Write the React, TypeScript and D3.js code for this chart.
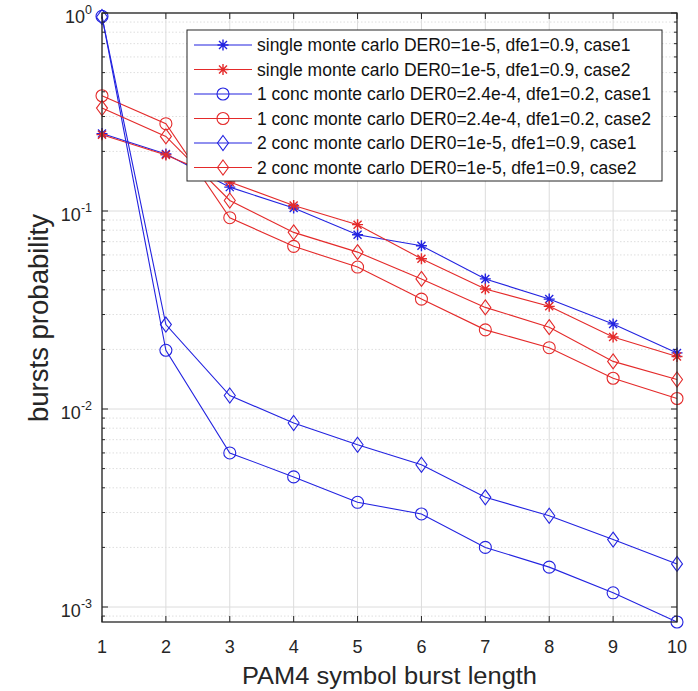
import React from "react";
import * as d3 from "d3";

const burstLength = [1, 2, 3, 4, 5, 6, 7, 8, 9, 10];
const singleCase1 = [0.246, 0.194, 0.132, 0.1035, 0.0759, 0.0668, 0.0454, 0.0359, 0.0269, 0.0192];
const singleCase2 = [0.243, 0.192, 0.14, 0.1067, 0.0853, 0.0574, 0.0404, 0.033, 0.0231, 0.0184];
const conc1Case1 = [0.962, 0.0198, 0.006, 0.00454, 0.00338, 0.00295, 0.002, 0.00159, 0.00118, 0.00084];
const conc1Case2 = [0.382, 0.276, 0.0925, 0.0663, 0.0521, 0.0359, 0.0251, 0.0204, 0.0143, 0.0113];
const conc2Case1 = [0.955, 0.0267, 0.0117, 0.0085, 0.0066, 0.00523, 0.00358, 0.00289, 0.00219, 0.00165];
const conc2Case2 = [0.331, 0.238, 0.113, 0.078, 0.062, 0.0454, 0.0326, 0.0259, 0.0174, 0.0141];

const seriesNames = [
  "single monte carlo DER0=1e-5, dfe1=0.9, case1",
  "single monte carlo DER0=1e-5, dfe1=0.9, case2",
  "1 conc monte carlo DER0=2.4e-4, dfe1=0.2, case1",
  "1 conc monte carlo DER0=2.4e-4, dfe1=0.2, case2",
  "2 conc monte carlo DER0=1e-5, dfe1=0.9, case1",
  "2 conc monte carlo DER0=1e-5, dfe1=0.9, case2",
];
const seriesValues = [singleCase1, singleCase2, conc1Case1, conc1Case2, conc2Case1, conc2Case2];
const seriesColors = ["#2323e0", "#e42a2a", "#2323e0", "#e42a2a", "#2323e0", "#e42a2a"];
const seriesMarkers = ["star", "star", "circle", "circle", "diamond", "diamond"];

const xTicks = [1, 2, 3, 4, 5, 6, 7, 8, 9, 10];
const yDecades = [-3, -2, -1, 0];

const W = 698;
const H = 691;
const M = { left: 102, right: 21, top: 13, bottom: 69 };

function Marker({ type, x, y, color }: { type: string; x: number; y: number; color: string }) {
  if (type === "circle") {
    return <circle cx={x} cy={y} r={6} fill="none" stroke={color} strokeWidth={1.1} />;
  }
  if (type === "diamond") {
    const w = 5.5, h = 7.5;
    return (
      <path
        d={`M${x},${y - h}L${x + w},${y}L${x},${y + h}L${x - w},${y}Z`}
        fill="none"
        stroke={color}
        strokeWidth={1.1}
      />
    );
  }
  const s = 5.5, d = 4;
  return (
    <path
      d={`M${x - s},${y}L${x + s},${y}M${x},${y - s}L${x},${y + s}M${x - d},${y - d}L${x + d},${y + d}M${x - d},${y + d}L${x + d},${y - d}`}
      stroke={color}
      strokeWidth={1.4}
      fill="none"
    />
  );
}

export default function App() {
  const allVals = seriesValues.flat();
  const yMin = d3.min(allVals) as number;
  const x = d3.scaleLinear().domain([1, 10]).range([M.left, W - M.right]);
  const y = d3.scaleLog().domain([yMin, 1]).range([H - M.bottom, M.top]);
  const x0 = M.left, x1 = W - M.right, y0 = H - M.bottom, y1 = M.top;

  const minorVals: number[] = [];
  yDecades.forEach((e) => {
    for (let k = 2; k <= 9; k++) {
      const v = k * Math.pow(10, e - 1);
      if (v >= yMin && v <= 1) minorVals.push(v);
    }
  });
  const majorVals = yDecades.map((e) => Math.pow(10, e)).filter((v) => v >= yMin && v <= 1);

  const line = d3
    .line<number>()
    .x((_, i) => x(burstLength[i]))
    .y((d) => y(d));

  const frame = "#262626";
  const font = "'Liberation Sans', Arial, Helvetica, sans-serif";

  const legX = 187, legY = 30, legW = 475, legH = 151, rowH = 24.5;

  return (
    <svg width={W} height={H} style={{ position: "absolute", left: 0, top: 0, background: "#fff" }} fontFamily={font}>
      <rect x={0} y={0} width={W} height={H} fill="#fff" />
      {minorVals.map((v, i) => (
        <line key={"mg" + i} x1={x0} x2={x1} y1={y(v)} y2={y(v)} stroke="#dedede" strokeWidth={1} strokeDasharray="1.5,2" />
      ))}
      {majorVals.map((v, i) => (
        <line key={"Mg" + i} x1={x0} x2={x1} y1={y(v)} y2={y(v)} stroke="#dcdcdc" strokeWidth={1} />
      ))}
      {xTicks.map((t) => (
        <line key={"xg" + t} x1={x(t)} x2={x(t)} y1={y0} y2={y1} stroke="#dcdcdc" strokeWidth={1} />
      ))}
      {seriesValues.map((vals, si) => (
        <g key={"s" + si}>
          <path d={line(vals) || ""} fill="none" stroke={seriesColors[si]} strokeWidth={1.1} />
          {vals.map((v, i) => (
            <Marker key={i} type={seriesMarkers[si]} x={x(burstLength[i])} y={y(v)} color={seriesColors[si]} />
          ))}
        </g>
      ))}
      <rect x={x0} y={y1} width={x1 - x0} height={y0 - y1} fill="none" stroke={frame} strokeWidth={1.3} />
      {xTicks.map((t) => (
        <g key={"xt" + t}>
          <line x1={x(t)} x2={x(t)} y1={y0} y2={y0 - 6} stroke={frame} />
          <line x1={x(t)} x2={x(t)} y1={y1} y2={y1 + 6} stroke={frame} />
          <text x={x(t)} y={y0 + 31} textAnchor="middle" fontSize={18} fill="#262626">
            {t}
          </text>
        </g>
      ))}
      {majorVals.map((v, i) => (
        <g key={"yt" + i}>
          <line x1={x0} x2={x0 + 6} y1={y(v)} y2={y(v)} stroke={frame} />
          <line x1={x1} x2={x1 - 6} y1={y(v)} y2={y(v)} stroke={frame} />
          <text x={92} y={y(v) + 10} textAnchor="end" fontSize={18} fill="#262626">
            10
            <tspan dy={-9} fontSize={12.5}>
              {Math.round(Math.log10(v))}
            </tspan>
          </text>
        </g>
      ))}
      {minorVals.map((v, i) => (
        <g key={"ymt" + i}>
          <line x1={x0} x2={x0 + 3} y1={y(v)} y2={y(v)} stroke={frame} />
          <line x1={x1} x2={x1 - 3} y1={y(v)} y2={y(v)} stroke={frame} />
        </g>
      ))}
      <text
        x={(x0 + x1) / 2}
        y={684}
        textAnchor="middle"
        fontSize={23.5}
        fill="#262626"
        textLength={295}
        lengthAdjust="spacingAndGlyphs"
      >
        PAM4 symbol burst length
      </text>
      <text
        transform={`translate(48,318) rotate(-90)`}
        textAnchor="middle"
        fontSize={27}
        fill="#262626"
        textLength={208}
        lengthAdjust="spacingAndGlyphs"
      >
        bursts probability
      </text>
      <rect x={legX} y={legY} width={legW} height={legH} fill="#fff" stroke={frame} strokeWidth={1} />
      {seriesNames.map((name, i) => {
        const ry = legY + 15 + i * rowH;
        return (
          <g key={"lg" + i}>
            <line x1={194} x2={252} y1={ry} y2={ry} stroke={seriesColors[i]} strokeWidth={1.1} />
            <Marker type={seriesMarkers[i]} x={223} y={ry} color={seriesColors[i]} />
            <text x={257} y={ry + 6} fontSize={17.5} fill="#111">
              {name}
            </text>
          </g>
        );
      })}
    </svg>
  );
}
